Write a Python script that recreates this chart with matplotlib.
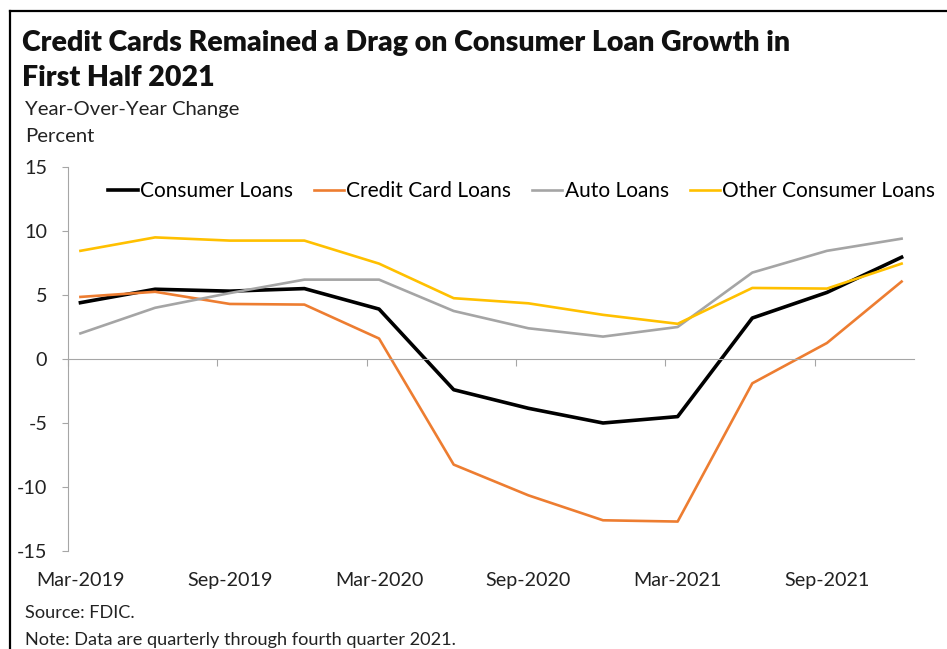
import matplotlib
matplotlib.use("Agg")
import matplotlib.pyplot as plt
from matplotlib.lines import Line2D

plt.rcParams['font.family'] = ['Lato', 'DejaVu Sans']

# Quarterly data, Mar-2019 .. Dec-2021 (months since Mar-2019)
months = [0, 3, 6, 9, 12, 15, 18, 21, 24, 27, 30, 33]
consumer = [4.4, 5.45, 5.3, 5.5, 3.9, -2.4, -3.85, -5.0, -4.5, 3.2, 5.2, 7.95]
credit_card = [4.85, 5.25, 4.3, 4.25, 1.6, -8.25, -10.65, -12.6, -12.7, -1.9, 1.25, 6.05]
auto = [2.0, 4.0, 5.15, 6.2, 6.2, 3.75, 2.4, 1.75, 2.5, 6.75, 8.45, 9.4]
other = [8.45, 9.5, 9.25, 9.25, 7.45, 4.75, 4.35, 3.45, 2.75, 5.55, 5.5, 7.45]

label_months = [0, 6, 12, 18, 24, 30]
label_text = ['Mar-2019', 'Sep-2019', 'Mar-2020', 'Sep-2020', 'Mar-2021', 'Sep-2021']

fig = plt.figure(figsize=(9.47, 6.49), dpi=100)
ax = fig.add_axes([0.0718, 0.1510, 0.8934, 0.5917])

ax.plot(months, consumer, color='black', lw=2.6, label='Consumer Loans')
ax.plot(months, credit_card, color='#ED7D31', lw=1.9, label='Credit Card Loans')
ax.plot(months, auto, color='#A5A5A5', lw=1.9, label='Auto Loans')
ax.plot(months, other, color='#FFC000', lw=1.9, label='Other Consumer Loans')

ax.set_xlim(-0.5, 33.5)
ax.set_ylim(-15, 15)
ax.set_yticks([-15, -10, -5, 0, 5, 10, 15])
ax.set_yticklabels(['-15', '-10', '-5', '0', '5', '10', '15'])

for s in ['top', 'right']:
    ax.spines[s].set_visible(False)
ax.spines['left'].set_color('#A6A6A6')
ax.spines['bottom'].set_color('#A6A6A6')
ax.spines['bottom'].set_position(('data', 0))
ax.set_xticks([-0.5 + 6 * k for k in range(6)])
ax.set_xticklabels([])
ax.tick_params(axis='x', direction='out', length=5, color='#A6A6A6')
ax.tick_params(axis='y', direction='out', length=4, color='#A6A6A6',
               pad=11, labelsize=14.2, labelcolor='#222222')

# date labels sit below the plot area
sec = ax.secondary_xaxis(0)
sec.spines['bottom'].set_visible(False)
sec.set_xticks(label_months)
sec.set_xticklabels(label_text)
sec.tick_params(length=0, pad=15, labelsize=14.2, labelcolor='#222222')

ax.legend(loc='center left', bbox_to_anchor=(108 / 947, 1 - 191 / 649),
          bbox_transform=fig.transFigure, ncol=4, frameon=False, fontsize=15,
          handlelength=1.45, handletextpad=0.1, columnspacing=1.0,
          borderpad=0, borderaxespad=0)

# titles and notes
fig.text(22 / 947, 1 - 43 / 649, 'Credit Cards Remained a Drag on Consumer Loan Growth in',
         fontsize=20.5, fontweight='heavy', va='center', color='#111111')
fig.text(22 / 947, 1 - 78 / 649, 'First Half 2021',
         fontsize=20.5, fontweight='heavy', va='center', color='#111111')
fig.text(25 / 947, 1 - 109 / 649, 'Year-Over-Year Change', fontsize=14.6, va='center', color='#222222')
fig.text(25 / 947, 1 - 137 / 649, 'Percent', fontsize=14.6, va='center', color='#222222')
fig.text(25 / 947, 1 - 613 / 649, 'Source: FDIC.', fontsize=13.1, va='center', color='#222222')
fig.text(25 / 947, 1 - 640 / 649, 'Note: Data are quarterly through fourth quarter 2021.',
         fontsize=13.1, va='center', color='#222222')

# frame lines (top and left)
fig.add_artist(Line2D([9.5 / 947, 1.0], [1 - 11 / 649, 1 - 11 / 649], color='black', lw=1.6,
                      transform=fig.transFigure))
fig.add_artist(Line2D([9.5 / 947, 9.5 / 947], [0, 1 - 11 / 649], color='black', lw=1.6,
                      transform=fig.transFigure))

fig.savefig('out.png', dpi=100)
